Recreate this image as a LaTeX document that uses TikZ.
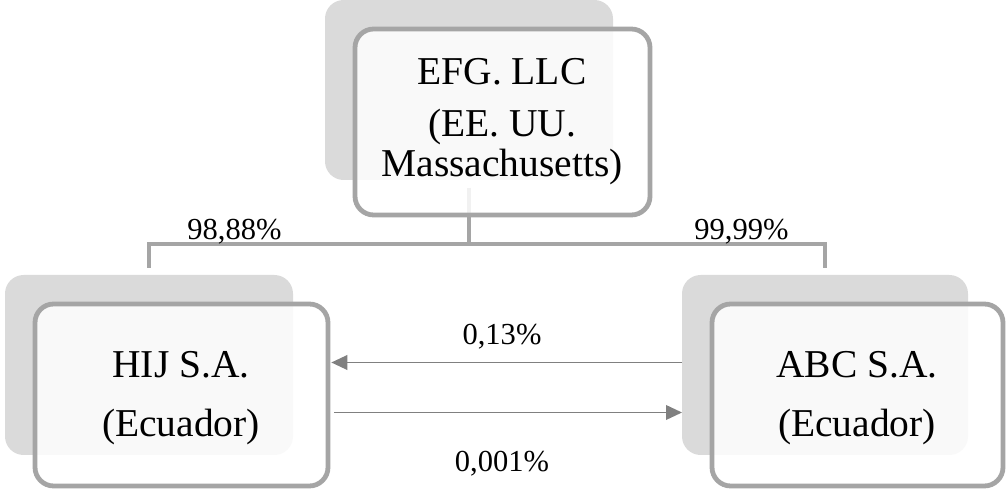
\documentclass[tikz,border=0pt]{standalone}
\usepackage{fontspec}
\setmainfont{Liberation Serif}
\usetikzlibrary{arrows.meta}
\definecolor{shadowgray}{HTML}{DADADA}
\definecolor{bordergray}{HTML}{A5A5A5}
\definecolor{arrowgray}{HTML}{808080}
\tikzset{
  shadowbox/.style={rectangle, rounded corners=14pt, fill=shadowgray, draw=none, inner sep=0pt, outer sep=0pt},
  mainbox/.style={rectangle, rounded corners=14pt, fill=white, fill opacity=0.85, draw=bordergray, line width=3.6pt, inner sep=0pt, outer sep=0pt},
  boxtext/.style={anchor=base, inner sep=0pt, font=\fontsize{29.6}{34}\selectfont},
  pcttext/.style={anchor=base, inner sep=0pt, font=\fontsize{22.9}{27}\selectfont},
  bracket/.style={draw=bordergray, line width=3.4pt},
  flowarrow/.style={draw=arrowgray, line width=1.2pt, -{Triangle[length=12pt,width=11pt]}}
}
\begin{document}
\begin{tikzpicture}[x=0.75pt,y=-0.75pt]
\useasboundingbox (0,0) rectangle (1007,491);
% shadows
\node[shadowbox, minimum width=216pt, minimum height=135pt] (topsh) at (469,90) {};
\node[shadowbox, minimum width=216pt, minimum height=135pt] (blsh) at (149,365) {};
\node[shadowbox, minimum width=214.5pt, minimum height=135pt] (brsh) at (825,365) {};
% bracket
\coordinate (bar) at (469,244);
\draw[bracket] ([yshift=-6pt]topsh.south) -- (bar);
\draw[bracket] ([yshift=5.25pt]blsh.north) |- (bar) -| ([yshift=5.25pt]brsh.north);
% main boxes
\node[mainbox, minimum width=221.25pt, minimum height=139.5pt] (topbox) at (502.5,122) {};
\node[mainbox, minimum width=219.75pt, minimum height=136.5pt] (blbox) at (181.5,395) {};
\node[mainbox, minimum width=218.25pt, minimum height=136.5pt] (brbox) at (857.5,395) {};
% arrows
\draw[flowarrow] (brsh.west |- 0,362.5) -- ([xshift=2.5pt]blbox.east |- 0,362.5);
\draw[flowarrow] ([xshift=4.5pt]blbox.east |- 0,412.5) -- (brsh.west |- 0,412.5);
% texts
\node[boxtext] (t1) at (502,85) {EFG. LLC};
\node[boxtext] (t2) at (502,137) {(EE. UU.};
\node[boxtext] (t3) at (502,177) {Massachusetts)};
\node[boxtext] (h1) at (181,378) {HIJ S.A.};
\node[boxtext] (h2) at (181,437) {(Ecuador)};
\node[boxtext] (a1) at (857,378) {ABC S.A.};
\node[boxtext] (a2) at (857,437) {(Ecuador)};
\node[pcttext] (p1) at (234.5,240) {98,88\%};
\node[pcttext] (p2) at (741.5,240) {99,99\%};
\node[pcttext] (p3) at (502,345) {0,13\%};
\node[pcttext] (p4) at (502,472) {0,001\%};
\end{tikzpicture}
\end{document}
